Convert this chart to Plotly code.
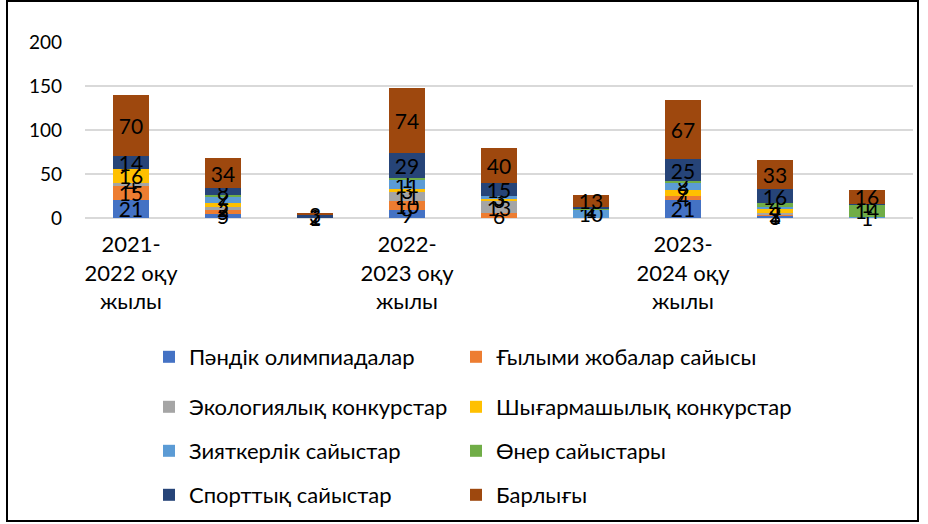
import plotly.graph_objects as go

years = ["2021-<br>2022 оқу<br>жылы", "2022-<br>2023 оқу<br>жылы", "2023-<br>2024 оқу<br>жылы"]
bar_index = [0, 1, 2, 3, 4, 5, 6, 7, 8]
year_tick_index = [0, 3, 6]

series_names = ["Пәндік олимпиадалар", "Ғылыми жобалар сайысы", "Экологиялық конкурстар",
                "Шығармашылық конкурстар", "Зияткерлік сайыстар", "Өнер сайыстары",
                "Спорттық сайыстар", "Барлығы"]

pandik = [21, 5, 1, 9, 0, 0, 21, 3, 0]
gylymi = [15, 5, 0, 10, 6, 0, 4, 1, 0]
ekolog = [4, 2, 0, 11, 13, 0, 0, 2, 0]
shygarm = [16, 5, 0, 3, 3, 0, 7, 4, 0]
ziyatker = [0, 7, 0, 11, 3, 10, 8, 3, 1]
oner = [0, 2, 0, 1, 0, 1, 2, 4, 14]
sport = [14, 8, 2, 29, 15, 2, 25, 16, 1]
barlygy = [70, 34, 3, 74, 40, 13, 67, 33, 16]

series_values = [pandik, gylymi, ekolog, shygarm, ziyatker, oner, sport, barlygy]
colors = ["#4472C4", "#ED7D31", "#A5A5A5", "#FFC000", "#5B9BD5", "#70AD47", "#264478", "#9E480E"]

FONT = "Lato, 'Noto Sans', sans-serif"
legend_ids = ["legend"] + ["legend%d" % i for i in range(2, 9)]

fig = go.Figure()
for name, vals, col, lg in zip(series_names, series_values, colors, legend_ids):
    fig.add_trace(go.Bar(
        x=bar_index, y=vals, name=name, marker_color=col,
        marker_line_width=0, width=0.4, showlegend=True,
        text=[str(v) for v in vals], textposition="inside", insidetextanchor="middle",
        textangle=0, textfont=dict(size=21, color="black", family=FONT),
        constraintext="none", cliponaxis=False, legend=lg,
    ))

W, H = 928, 524
ml, mr, mt, mb = 85, 15, 42, 306
pw, ph = W - ml - mr, H - mt - mb

def px_x(p):
    return (p - ml) / pw

def px_y(p):
    return (H - mb - p) / ph

leg_common = dict(orientation="h", xanchor="left", yanchor="middle",
                  font=dict(size=22, family=FONT, color="black"), bgcolor="rgba(0,0,0,0)")
rows_y = [357, 407, 451, 495]
cols_x = [149, 456]

legend_layout = {}
for i, lg in enumerate(legend_ids):
    legend_layout[lg] = dict(x=px_x(cols_x[i % 2]), y=px_y(rows_y[i // 2]), **leg_common)

fig.update_layout(
    width=W, height=H, barmode="stack", showlegend=True,
    margin=dict(l=ml, r=mr, t=mt, b=mb, autoexpand=False),
    plot_bgcolor="white", paper_bgcolor="white",
    font=dict(family=FONT, size=19, color="black"),
    uniformtext=dict(minsize=21, mode="show"),
    xaxis=dict(range=[-0.5, 8.5], tickvals=year_tick_index, ticktext=years,
               showgrid=False, showline=False, zeroline=False, ticks="",
               tickfont=dict(size=22, family=FONT, color="black"), ticklabelstandoff=11),
    yaxis=dict(range=[0, 200], dtick=50, showgrid=True, gridcolor="#D9D9D9", gridwidth=1.5,
               zeroline=True, zerolinecolor="#D9D9D9", zerolinewidth=1.5, showline=False,
               ticks="", tickfont=dict(size=19, family=FONT, color="black"), ticklabelstandoff=22),
    shapes=[dict(type="rect", xref="paper", yref="paper",
                 x0=px_x(7), x1=px_x(918), y0=px_y(521), y1=px_y(1),
                 line=dict(color="black", width=2), fillcolor="rgba(0,0,0,0)", layer="below")],
    **legend_layout,
)

fig.write_html("out.html", config={"displayModeBar": False},
               post_script="document.body.style.margin='0px';document.body.style.overflow='hidden';")
